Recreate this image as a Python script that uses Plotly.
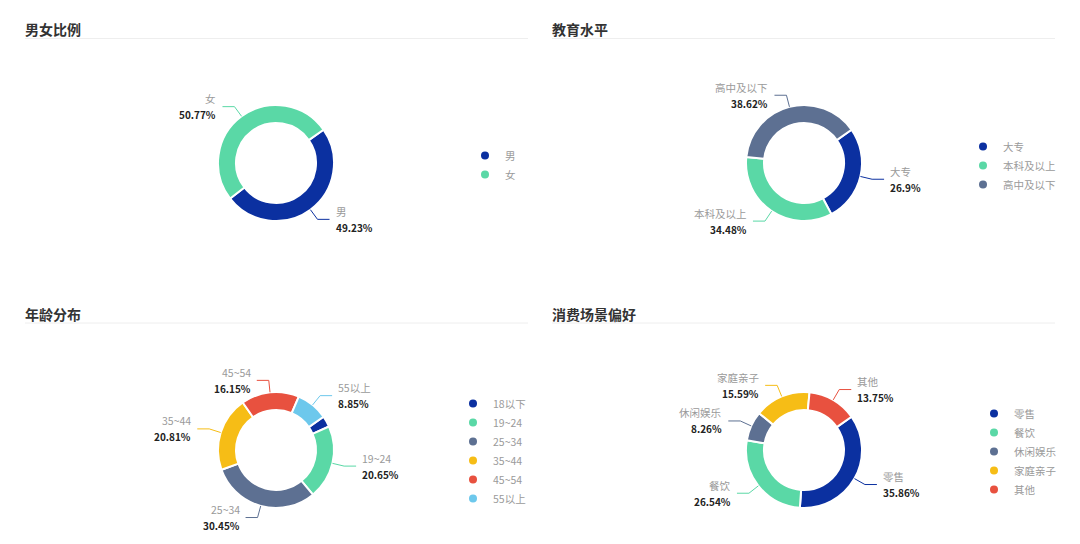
import math
import plotly.graph_objects as go

# region Data
titles = ["男女比例", "教育水平", "年龄分布", "消费场景偏好"]

gender_labels = ["男", "女"]
gender_values = [49.23, 50.77]

edu_labels = ["大专", "本科及以上", "高中及以下"]
edu_values = [26.9, 34.48, 38.62]

age_labels = ["18以下", "19~24", "25~34", "35~44", "45~54", "55以上"]
age_values = [3.09, 20.65, 30.45, 20.81, 16.15, 8.85]

scene_labels = ["零售", "餐饮", "休闲娱乐", "家庭亲子", "其他"]
scene_values = [35.86, 26.54, 8.26, 15.59, 13.75]
# endregion

# region Style / layout
W, H = 1080, 544
FONT = "Noto Sans CJK SC, Noto Sans, sans-serif"
colors = ["#0B30A0", "#5AD8A6", "#5D7092", "#F6BD16", "#E8513F", "#6DC8EC"]
R = 58            # outer radius (px)
HOLE = 40 / 58
START = 55        # first slice starts 55deg clockwise from 12 o'clock
LEN1, LEN2, GAP = 12, 12, 4
MIN_LABEL = 5     # slices smaller than this get no label

panels = [
    # data, center, legend marker center (x, first y), title pos, separator
    dict(labels=gender_labels, values=gender_values, c=(276, 163), leg=(489, 155), t=(25, 29), line=(25, 528, 38.5)),
    dict(labels=edu_labels, values=edu_values, c=(804, 163), leg=(987, 146), t=(552, 29), line=(552, 1055, 38.5)),
    dict(labels=age_labels, values=age_values, c=(276, 450), leg=(477, 403), t=(25, 314), line=(25, 528, 323)),
    dict(labels=scene_labels, values=scene_values, c=(804, 450), leg=(998, 413), t=(552, 314), line=(552, 1055, 323)),
]
# endregion


def px(x):
    return x / W


def py(y):
    return 1 - y / H


fig = go.Figure()
annotations = []
shapes = []

for i, p in enumerate(panels):
    cx, cy = p["c"]
    legend_name = "legend" if i == 0 else "legend%d" % (i + 1)

    fig.add_trace(go.Pie(
        labels=p["labels"],
        values=p["values"],
        hole=HOLE,
        sort=False,
        direction="clockwise",
        rotation=START,
        textinfo="none",
        hoverinfo="label+percent",
        showlegend=False,
        marker=dict(colors=colors[:len(p["values"])], line=dict(color="white", width=2)),
        domain=dict(x=[px(cx - R), px(cx + R)], y=[py(cy + R), py(cy - R)]),
    ))

    # legend entries with round markers
    for j, lab in enumerate(p["labels"]):
        fig.add_trace(go.Scatter(
            x=[None], y=[None], mode="markers", name=lab,
            marker=dict(color=colors[j], size=8),
            legend=legend_name, showlegend=True, hoverinfo="skip",
        ))

    lx, ly = p["leg"]
    fig.update_layout({legend_name: dict(
        x=px(lx - 24), y=py(ly - 14), xanchor="left", yanchor="top",
        font=dict(family=FONT, size=10.5, color="#9A9A9A"),
        bgcolor="rgba(0,0,0,0)", borderwidth=0, tracegroupgap=0,
        itemclick=False, itemdoubleclick=False,
    )})

    # outside labels with leader lines (echarts style)
    total = sum(p["values"])
    acc = 0
    for j, v in enumerate(p["values"]):
        mid = math.radians(START + (acc + v / 2) / total * 360)
        acc += v
        if v < MIN_LABEL:
            continue
        sx, cy_ = math.sin(mid), math.cos(mid)
        x0, y0 = cx + R * sx, cy - R * cy_
        x1, y1 = cx + (R + LEN1) * sx, cy - (R + LEN1) * cy_
        side = 1 if sx >= 0 else -1
        x2 = x1 + side * LEN2
        shapes.append(dict(
            type="path", xref="paper", yref="paper",
            path="M %f,%f L %f,%f L %f,%f" % (px(x0), py(y0), px(x1), py(y1), px(x2), py(y1)),
            line=dict(color=colors[j], width=1),
        ))
        anchor = "left" if side > 0 else "right"
        annotations.append(dict(
            x=px(x2 + side * GAP), y=py(y1 - 8), xref="paper", yref="paper",
            text=p["labels"][j], showarrow=False, xanchor=anchor, yanchor="middle",
            font=dict(family=FONT, size=10.5, color="#9A9A9A"),
        ))
        annotations.append(dict(
            x=px(x2 + side * GAP), y=py(y1 + 8), xref="paper", yref="paper",
            text="%g%%" % v, showarrow=False, xanchor=anchor, yanchor="middle",
            font=dict(family=FONT, size=10, color="#222222", weight="bold"),
        ))

    # panel title and separator
    tx, ty = p["t"]
    annotations.append(dict(
        x=px(tx - 2), y=py(ty), xref="paper", yref="paper", text=titles[i],
        showarrow=False, xanchor="left", yanchor="middle",
        font=dict(family=FONT, size=14, color="#333333", weight="bold"),
    ))
    lx0, lx1, lyy = p["line"]
    shapes.append(dict(
        type="line", xref="paper", yref="paper",
        x0=px(lx0), x1=px(lx1), y0=py(lyy), y1=py(lyy),
        line=dict(color="#EEEEEE", width=1),
    ))

fig.update_layout(
    width=W, height=H,
    margin=dict(l=0, r=0, t=0, b=0),
    paper_bgcolor="white", plot_bgcolor="white",
    xaxis=dict(visible=False), yaxis=dict(visible=False),
    annotations=annotations, shapes=shapes,
    font=dict(family=FONT),
)

# drop the default 8px page margin so the figure sits at the window corner
fig.write_html("out.html", config={"displayModeBar": False},
               post_script="document.body.style.margin='0';")
